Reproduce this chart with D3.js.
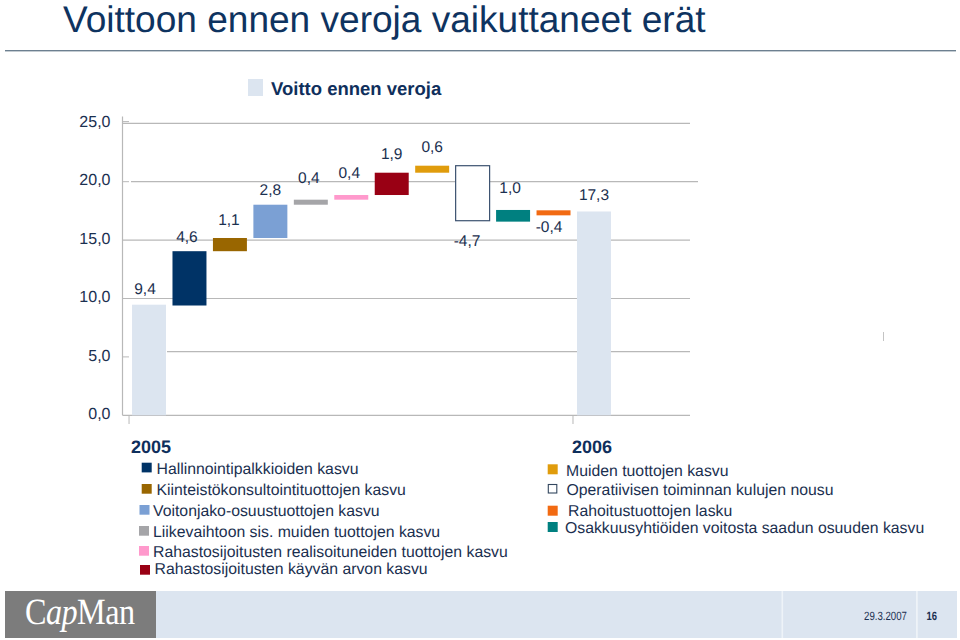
<!DOCTYPE html>
<html><head><meta charset="utf-8">
<script src="https://cdn.jsdelivr.net/npm/d3@7"></script>
<style>
html,body{margin:0;padding:0;background:#fff}
svg{display:block;text-rendering:geometricPrecision}
text{font-family:"Liberation Sans",Arial,sans-serif;fill:#1b3050}
</style></head><body><svg id="c" width="960" height="640"></svg>
<script>
const titleText = "Voittoon ennen veroja vaikuttaneet erät";
const seriesName = "Voitto ennen veroja";
const categories = ["2005","Hallinnointipalkkioiden kasvu","Kiinteistökonsultointituottojen kasvu","Voitonjako-osuustuottojen kasvu","Liikevaihtoon sis. muiden tuottojen kasvu","Rahastosijoitusten realisoituneiden tuottojen kasvu","Rahastosijoitusten käyvän arvon kasvu","Muiden tuottojen kasvu","Operatiivisen toiminnan kulujen nousu","Osakkuusyhtiöiden voitosta saadun osuuden kasvu","Rahoitustuottojen lasku","2006"];
const valueLabels = ["9,4","4,6","1,1","2,8","0,4","0,4","1,9","0,6","-4,7","1,0","-0,4","17,3"];
const barLow  = [0,9.4,14.05,15.18,18.03,18.46,18.86,20.77,16.66,16.58,17.12,0];
const barHigh = [9.47,14.05,15.18,18.03,18.46,18.86,20.77,21.37,21.37,17.58,17.55,17.45];
const fills   = ["#dce5f0","#003366","#996600","#7ba0d4","#a5a5a8","#ff99cc","#990014","#e09c0c","#ffffff","#008080","#f26a12","#dce5f0"];
const yTicks = [0,5,10,15,20,25];
const legend2005 = [["Hallinnointipalkkioiden kasvu","#003366"],["Kiinteistökonsultointituottojen kasvu","#996600"],["Voitonjako-osuustuottojen kasvu","#7ba0d4"],["Liikevaihtoon sis. muiden tuottojen kasvu","#a5a5a8"],["Rahastosijoitusten realisoituneiden tuottojen kasvu","#ff99cc"],["Rahastosijoitusten käyvän arvon kasvu","#990014"]];
const legend2006 = [["Muiden tuottojen kasvu","#e09c0c"],["Operatiivisen toiminnan kulujen nousu","#ffffff"],["Rahoitustuottojen lasku","#f26a12"],["Osakkuusyhtiöiden voitosta saadun osuuden kasvu","#008080"]];

const svg = d3.select("#c");
const y = d3.scaleLinear().domain([0,25]).range([415.3,123.3]);
const x = d3.scaleBand().domain(categories).range([128.8,614.2]).paddingInner(.16).paddingOuter(.08);
const GRID="#b8b8b8";

// title + rule
svg.append("text").attr("x",63).attr("y",32).attr("font-size",37.05).style("fill","#0e3360").text(titleText);
svg.append("rect").attr("x",5).attr("y",50).attr("width",951).attr("height",1.4).attr("fill","#6d8090");

// series header
svg.append("rect").attr("x",248).attr("y",79).attr("width",15).attr("height",17).attr("fill","#dce5f0");
svg.append("text").attr("x",271).attr("y",95).attr("font-size",18.5).attr("font-weight","bold").style("fill","#0f2f5c").text(seriesName);

// gridlines (as in the picture each has its own extents)
const grid=[{v:25,a:122.5,b:690},{v:20,a:131,b:698},{v:15,a:122.5,b:690},{v:10,a:122.5,b:690},{v:5.45,a:167,b:690},{v:0,a:122.5,b:690}];
svg.selectAll("line.g").data(grid).join("line").attr("class","g")
 .attr("x1",d=>d.a).attr("x2",d=>d.b).attr("y1",d=>y(d.v)).attr("y2",d=>y(d.v))
 .attr("stroke",GRID).attr("stroke-width",1.2);

// y axis through d3.axisLeft
const ax = svg.append("g").attr("transform","translate(122.5,-2)")
 .call(d3.axisLeft(y).tickValues(yTicks).tickSize(0).tickPadding(12).tickFormat(d=>d3.format(".1f")(d).replace(".",",")));
ax.select(".domain").attr("d","M0,118.5V417.3").attr("stroke",GRID).attr("stroke-width",1.2);
ax.selectAll("text").attr("font-size",16).style("font-family",'"Liberation Sans",Arial,sans-serif').style("fill","#1b3050");
// short tick stubs
[[25,1.7],[20,0],[5,0]].forEach(([v,o])=>svg.append("line").attr("x1",122.5).attr("x2",129).attr("y1",y(v)-o).attr("y2",y(v)-o).attr("stroke",GRID).attr("stroke-width",1));
// category ticks
["2005","2006"].forEach(c=>{const px=c==="2005"?x(c)-3:x(c)-4;
 svg.append("line").attr("x1",px).attr("x2",px).attr("y1",415).attr("y2",424).attr("stroke",GRID).attr("stroke-width",1);});
svg.append("line").attr("x1",883.5).attr("x2",883.5).attr("y1",332).attr("y2",341).attr("stroke","#c4c4c4").attr("stroke-width",1);

// bars
svg.selectAll("rect.b").data(categories).join("rect").attr("class","b")
 .attr("x",d=>x(d)).attr("width",x.bandwidth())
 .attr("y",(d,i)=>y(barHigh[i])).attr("height",(d,i)=>y(barLow[i])-y(barHigh[i]))
 .attr("fill",(d,i)=>fills[i])
 .attr("stroke",(d,i)=>i===8?"#3c5270":"none").attr("stroke-width",1.2);
// value labels: offset from each bar's centre and top
const labelDx=[-4,-2.5,-1,0,-2,-2,0,0,-5.6,-3,-4.5,0];
const labelDy=[-16.7,-15.2,-19,-15.7,-22.7,-23,-19.7,-19.7,74.3,-23,15.7,-16.6];
svg.selectAll("text.v").data(categories).join("text").attr("class","v")
 .attr("x",(d,i)=>x(d)+x.bandwidth()/2+labelDx[i]).attr("y",(d,i)=>y(barHigh[i])+labelDy[i])
 .attr("dy",".36em").attr("text-anchor","middle").attr("font-size",15.5)
 .text((d,i)=>valueLabels[i]);

// legends
svg.append("text").attr("x",131).attr("y",453).attr("font-size",18).attr("font-weight","bold").style("fill","#0f2f5c").text("2005");
svg.append("text").attr("x",572).attr("y",453).attr("font-size",18).attr("font-weight","bold").style("fill","#0f2f5c").text("2006");
const LEG=15.8;
const sx=[141.7,141.7,139.5,139,139,140], tx=[156.5,156.5,153,153,153,154.5];
const sy=[462.7,484,505,526,546,565], ty=[474,495,516,537,557,574];
legend2005.forEach((d,i)=>{
 svg.append("rect").attr("x",sx[i]).attr("y",sy[i]).attr("width",10).attr("height",9.7).attr("fill",d[1]);
 svg.append("text").attr("x",tx[i]).attr("y",ty[i]).attr("font-size",LEG).text(d[0]);
});
const rx=[566,566.5,568,565], ry=[476,495,515.7,532.7], rs=[464.3,484.5,505.7,522];
legend2006.forEach((d,i)=>{
 svg.append("rect").attr("x",i==1?548.3:547.7).attr("y",rs[i]).attr("width",i==1?8.5:10).attr("height",i==1?8.5:10)
  .attr("fill",d[1]).attr("stroke",i==1?"#33475f":"none").attr("stroke-width",1.1);
 svg.append("text").attr("x",rx[i]).attr("y",ry[i]).attr("font-size",LEG).text(d[0]);
});

// footer
svg.append("rect").attr("x",5).attr("y",591).attr("width",151).attr("height",47).attr("fill","#7c7c7c");
svg.append("rect").attr("x",156).attr("y",591).attr("width",801).attr("height",47).attr("fill","#dce5f0");
svg.append("rect").attr("x",781.5).attr("y",591).attr("width",1.6).attr("height",47).attr("fill","#eef3f8");
svg.append("rect").attr("x",916).attr("y",591).attr("width",1.8).attr("height",47).attr("fill","#eef3f8");
const logo=svg.append("text").attr("transform","translate(25,624) scale(.87,1)").attr("font-size",37).attr("letter-spacing",-.6).style("fill","#fff").style("font-family",'"Liberation Serif",serif');
logo.append("tspan").text("C");
logo.append("tspan").attr("font-style","italic").text("ap");
logo.append("tspan").text("Man");
svg.append("text").attr("x",864).attr("y",620).attr("font-size",12).attr("textLength",43).attr("lengthAdjust","spacingAndGlyphs").text("29.3.2007");
svg.append("text").attr("x",926.5).attr("y",620).attr("font-size",12).attr("font-weight","bold").attr("textLength",10.5).attr("lengthAdjust","spacingAndGlyphs").text("16");
</script></body></html>
